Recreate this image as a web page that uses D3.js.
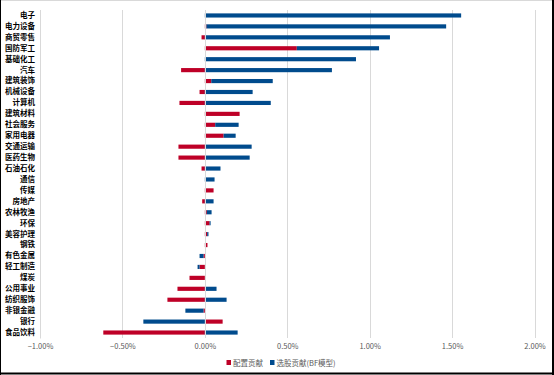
<!DOCTYPE html>
<html><head><meta charset="utf-8">
<script src="https://cdn.jsdelivr.net/npm/d3@7"></script>
<style>html,body{margin:0;padding:0;background:#fff;}svg{display:block;}</style>
</head><body>
<script>
const categories = ["电子","电力设备","商贸零售","国防军工","基础化工","汽车","建筑装饰","机械设备","计算机","建筑材料","社会服务","家用电器","交通运输","医药生物","石油石化","通信","传媒","房地产","农林牧渔","环保","美容护理","钢铁","有色金属","轻工制造","煤炭","公用事业","纺织服饰","非银金融","银行","食品饮料"];
const allocation = [0.000,0.010,-0.020,0.558,0.000,-0.144,0.039,-0.032,-0.154,0.211,0.063,0.114,-0.160,-0.160,-0.020,0.000,0.053,-0.016,0.012,0.029,0.014,0.016,-0.008,-0.032,-0.093,-0.166,-0.227,-0.008,0.108,-0.616];
const selection = [1.555,1.454,1.123,0.499,0.917,0.771,0.373,0.290,0.400,0.000,0.142,0.073,0.284,0.272,0.095,0.059,0.000,0.053,0.029,0.006,0.008,0.000,-0.024,-0.012,0.000,0.071,0.132,-0.110,-0.373,0.199];
const tickValues = [-1.0,-0.5,0.0,0.5,1.0,1.5,2.0];
const seriesNames = ["配置贡献","选股贡献(BF模型)"];
const colors = ["#BE0027","#004B8D"];

const W=554,H=375;
const svg=d3.select("body").append("svg").attr("width",W).attr("height",H);
const font='"Noto Sans CJK SC","Noto Sans",sans-serif';

const x=d3.scaleLinear().domain([-1,2]).range([40,534.5]);
const y=d3.scaleBand().domain(categories).range([10,338]).paddingInner(0.62).paddingOuter(0.31);

// gridlines
svg.append("g").selectAll("line").data(tickValues).join("line")
  .attr("x1",d=>Math.round(x(d))+0.5).attr("x2",d=>Math.round(x(d))+0.5)
  .attr("y1",10).attr("y2",338).attr("stroke","#d9d9d9").attr("stroke-width",1);

// stacked bars
const rows=categories.map((c,i)=>({c,a:allocation[i],s:selection[i]}));
const segs=[];
rows.forEach(r=>{
  let pos=0,neg=0;
  [r.a,r.s].forEach((v,k)=>{
    let x0,x1;
    if(v>=0){x0=pos;x1=pos+v;pos=x1;}else{x0=neg+v;x1=neg;neg=x0;}
    segs.push({c:r.c,k,x0,x1});
  });
});
svg.append("g").selectAll("rect").data(segs).join("rect")
  .attr("x",d=>x(d.x0)).attr("width",d=>Math.max(0,x(d.x1)-x(d.x0)))
  .attr("y",d=>y(d.c)).attr("height",y.bandwidth())
  .attr("fill",d=>colors[d.k]);

// zero line on top
svg.append("line").attr("x1",Math.round(x(0))+0.5).attr("x2",Math.round(x(0))+0.5)
  .attr("y1",10).attr("y2",338).attr("stroke","#d9d9d9");

// y axis labels
const ya=d3.axisLeft(y).tickSize(0).tickPadding(5);
const gy=svg.append("g").attr("transform","translate(40,0)").call(ya);
gy.select(".domain").attr("stroke","#d9d9d9");
gy.selectAll("text").attr("font-family",font).attr("font-size",7.5).attr("font-weight","bold").attr("fill","#000");

// x axis labels
const xa=d3.axisBottom(x).tickValues(tickValues).tickSize(0).tickPadding(6).tickFormat(d=>d3.format(".2f")(d)+"%");
const gx=svg.append("g").attr("transform","translate(0,338)").call(xa);
gx.select(".domain").remove();
gx.selectAll("text").attr("font-family",font).attr("font-size",7.5).attr("fill","#595959");

// legend
const lg=svg.append("g");
const lx=[226.5,270];
seriesNames.forEach((n,i)=>{
  lg.append("rect").attr("x",lx[i]).attr("y",360).attr("width",4.5).attr("height",5).attr("fill",colors[i]);
  lg.append("text").attr("x",lx[i]+6.5).attr("y",365.5).attr("font-family",font).attr("font-size",7.5).attr("fill","#595959").text(n);
});

// frame
svg.append("line").attr("x1",0).attr("x2",W).attr("y1",0.5).attr("y2",0.5).attr("stroke","#d9d9d9");
svg.append("line").attr("x1",0.5).attr("x2",0.5).attr("y1",0).attr("y2",H).attr("stroke","#000");
svg.append("line").attr("x1",W-1).attr("x2",W-1).attr("y1",0).attr("y2",H).attr("stroke","#000").attr("stroke-width",2);
svg.append("line").attr("x1",0).attr("x2",W).attr("y1",H-1.5).attr("y2",H-1.5).attr("stroke","#000").attr("stroke-width",2);
</script>
</body></html>
